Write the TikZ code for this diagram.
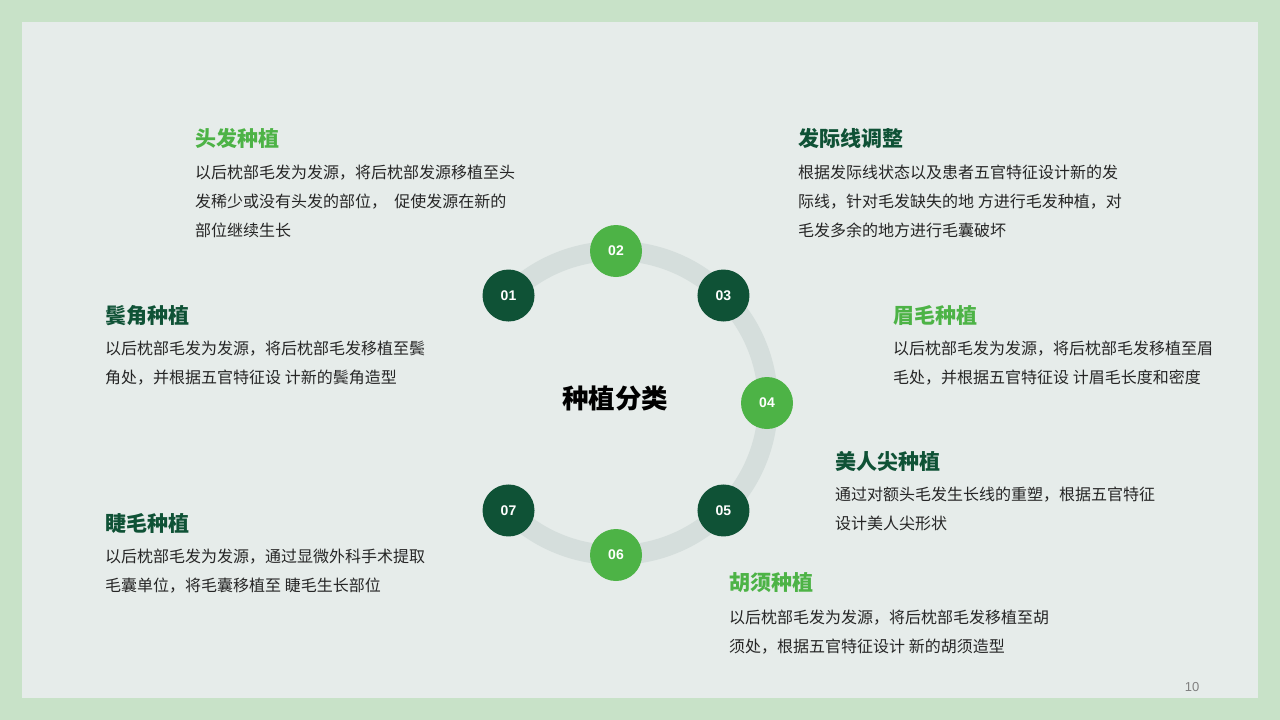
\documentclass[tikz,border=0pt]{standalone}
\usepackage{fontspec}
\usetikzlibrary{calc}
\newfontfamily\cjk{Noto Sans CJK SC}
\newfontfamily\numfont{Liberation Sans}
\definecolor{outerbg}{HTML}{C8E2C8}
\definecolor{panel}{HTML}{E6ECEA}
\definecolor{ringc}{HTML}{D5DEDC}
\definecolor{dkgreen}{HTML}{0F5236}
\definecolor{ltgreen}{HTML}{4DB346}
\definecolor{bodyc}{HTML}{262626}
\tikzset{
  dot/.style={circle,minimum size=52,inner sep=0,text=white,font=\numfont\bfseries\fontsize{14}{14}\selectfont},
  dkdot/.style={dot,fill=dkgreen},
  ltdot/.style={dot,fill=ltgreen},
  ttl/.style={anchor=west,inner sep=0,font=\cjk\bfseries\fontsize{21}{21}\selectfont},
  dkttl/.style={ttl,text=dkgreen},
  ltttl/.style={ttl,text=ltgreen},
  body/.style={anchor=north west,inner sep=0,align=left,text=bodyc,font=\cjk\fontsize{16}{29}\selectfont},
}
\begin{document}
\begin{tikzpicture}[x=1pt,y=-1pt]
\fill[outerbg] (0,0) rectangle (1280,720);
\fill[panel] (22,22) rectangle (1258,698);
\useasboundingbox (0,0) rectangle (1280,720);
\coordinate (c) at (616,403);
\draw[ringc,line width=20] ($(c)+(225:152)$) arc[start angle=225,end angle=495,radius=152];
\node[dkdot] (n1) at ($(c)+(225:152)$) {01};
\node[ltdot] (n2) at ($(c)+(270:152)$) {02};
\node[dkdot] (n3) at ($(c)+(315:152)$) {03};
\node[ltdot] (n4) at ($(c)+(0:151)$) {04};
\node[dkdot] (n5) at ($(c)+(45:152)$) {05};
\node[ltdot] (n6) at ($(c)+(90:152)$) {06};
\node[dkdot] (n7) at ($(c)+(135:152)$) {07};
\node[font=\cjk\bfseries\fontsize{26.5}{26.5}\selectfont,text=black] (center) at (615,398) {种植分类};
% 01
\node[ltttl] (t1) at (195,138) {头发种植};
\node[body] (b1) at (195,165) {以后枕部毛发为发源，将后枕部发源移植至头\\发稀少或没有头发的部位，\ \ 促使发源在新的\\部位继续生长};
% 02
\node[dkttl] (t2) at (798,138) {发际线调整};
\node[body] (b2) at (798,165) {根据发际线状态以及患者五官特征设计新的发\\际线，针对毛发缺失的地 方进行毛发种植，对\\毛发多余的地方进行毛囊破坏};
% left middle
\node[dkttl] (t3) at (105,316) {鬓角种植};
\node[body] (b3) at (105,341) {以后枕部毛发为发源，将后枕部毛发移植至鬓\\角处，并根据五官特征设 计新的鬓角造型};
% right middle
\node[ltttl] (t4) at (893,316) {眉毛种植};
\node[body] (b4) at (893,341) {以后枕部毛发为发源，将后枕部毛发移植至眉\\毛处，并根据五官特征设 计眉毛长度和密度};
% 05
\node[dkttl] (t5) at (835,461) {美人尖种植};
\node[body] (b5) at (835,487) {通过对额头毛发生长线的重塑，根据五官特征\\设计美人尖形状};
% 07
\node[dkttl] (t7) at (105,523) {睫毛种植};
\node[body] (b7) at (105,549) {以后枕部毛发为发源，通过显微外科手术提取\\毛囊单位，将毛囊移植至 睫毛生长部位};
% 06
\node[ltttl] (t6) at (729,583) {胡须种植};
\node[body] (b6) at (729,610) {以后枕部毛发为发源，将后枕部毛发移植至胡\\须处，根据五官特征设计 新的胡须造型};
\node[font=\numfont\fontsize{13}{13}\selectfont,text=gray] (pg) at (1192,687) {10};
\end{tikzpicture}
\end{document}
